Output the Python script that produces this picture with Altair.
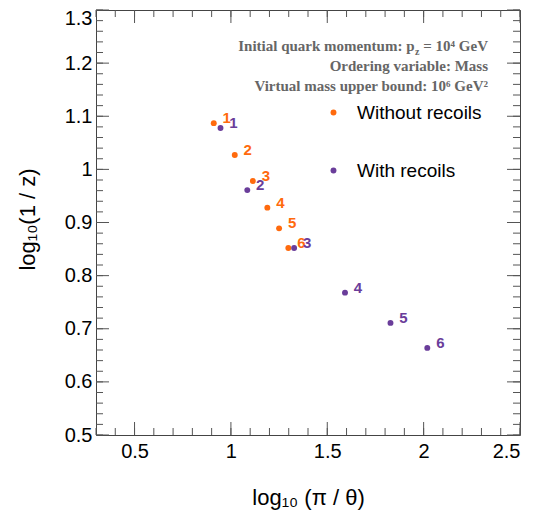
import altair as alt
import pandas as pd

# ---- data ----
series_names = ["Without recoils", "With recoils"]
series_colors = ["#FF6A0D", "#6A3D9A"]
labels = ["1", "2", "3", "4", "5", "6"]
without_x = [0.911, 1.020, 1.114, 1.189, 1.250, 1.298]
without_y = [1.087, 1.027, 0.978, 0.928, 0.889, 0.852]
with_x = [0.946, 1.085, 1.328, 1.592, 1.828, 2.019]
with_y = [1.078, 0.961, 0.852, 0.768, 0.711, 0.664]

x_ticks = [0.5, 1.0, 1.5, 2.0, 2.5]
y_ticks = [0.5, 0.6, 0.7, 0.8, 0.9, 1.0, 1.1, 1.2, 1.3]
x_minor = [round(0.3 + 0.1 * i, 2) for i in range(23)]
y_minor = [round(0.5 + 0.02 * i, 2) for i in range(41)]

notes_right = ["Initial quark momentum: p", "z", "= 10\u2074 GeV",
               "Ordering variable: Mass", "Virtual mass upper bound: 10\u2076 GeV\u00b2"]

W, H = 424, 425

rows = []
for s, xs, ys in [(series_names[0], without_x, without_y), (series_names[1], with_x, with_y)]:
    for lab, xv, yv in zip(labels, xs, ys):
        rows.append({"x": xv, "y": yv, "series": s, "label": lab})
df = pd.DataFrame(rows)

xscale = alt.Scale(domain=[0.3, 2.5], nice=False, zero=False)
yscale = alt.Scale(domain=[0.5, 1.3], nice=False, zero=False)
color = alt.Color("series:N", scale=alt.Scale(domain=series_names, range=series_colors),
                  legend=alt.Legend(orient="none", legendX=228, legendY=93, title=None,
                                    labelFontSize=19, labelFont="Liberation Sans",
                                    labelColor="black", symbolSize=35, symbolType="circle",
                                    rowPadding=38, labelOffset=14, padding=0,
                                    symbolStrokeWidth=0))

base = alt.Chart(df)
points = base.mark_point(filled=True, size=35, opacity=1).encode(
    x=alt.X("x:Q", scale=xscale,
            axis=alt.Axis(values=x_ticks, format="~g", ticks=False, domain=False, grid=False,
                          labelFontSize=20, labelFont="Liberation Sans", labelColor="black",
                          labelPadding=6, title="log\u2081\u2080 (\u03c0 / \u03b8)",
                          titleFontSize=22, titleFont="Liberation Sans",
                          titleFontWeight="normal", titleColor="black",
                          titleY=69, titleBaseline="alphabetic")),
    y=alt.Y("y:Q", scale=yscale,
            axis=alt.Axis(values=y_ticks, format="~g", ticks=False, domain=False, grid=False,
                          labelFontSize=20, labelFont="Liberation Sans", labelColor="black",
                          labelPadding=4,
                          labelOffset={"condition": {"test": "datum.value >= 1.29", "value": 8},
                                       "value": 0},
                          title="log\u2081\u2080(1 / z)",
                          titleFontSize=22, titleFont="Liberation Sans",
                          titleFontWeight="normal", titleColor="black",
                          titleX=-57, titleY=209, titleBaseline="bottom")),
    color=color,
)
texts = base.mark_text(dx=13, dy=-5, fontSize=15, fontWeight="bold",
                       font="Liberation Sans", align="center", baseline="middle").encode(
    x=alt.X("x:Q", scale=xscale), y=alt.Y("y:Q", scale=yscale), text="label:N",
    color=alt.Color("series:N", scale=alt.Scale(domain=series_names, range=series_colors),
                    legend=None),
)

tick_color = "#555555"


def tick_layer(vals, axis, side, length):
    d = pd.DataFrame({"v": vals})
    c = alt.Chart(d).mark_rule(color=tick_color, strokeWidth=1)
    if axis == "y":
        if side == "left":
            return c.encode(y=alt.Y("v:Q", scale=yscale), x=alt.value(0), x2=alt.value(length))
        return c.encode(y=alt.Y("v:Q", scale=yscale), x=alt.value(W - length), x2=alt.value(W))
    if side == "bottom":
        return c.encode(x=alt.X("v:Q", scale=xscale), y=alt.value(H - length), y2=alt.value(H))
    return c.encode(x=alt.X("v:Q", scale=xscale), y=alt.value(0), y2=alt.value(length))


ticks = []
for side in ["left", "right"]:
    ticks.append(tick_layer(y_ticks, "y", side, 13))
    ticks.append(tick_layer(y_minor, "y", side, 7))
for side in ["bottom", "top"]:
    ticks.append(tick_layer(x_ticks, "x", side, 13))
    ticks.append(tick_layer(x_minor, "x", side, 7))

note_style = dict(font="Liberation Serif", fontWeight="bold", color="#666666",
                  align="right", baseline="alphabetic")
notes = pd.DataFrame({"t": notes_right})


def note(i, px, py, size):
    return alt.Chart(notes.iloc[[i]]).mark_text(fontSize=size, **note_style).encode(
        text="t:N", x=alt.value(px), y=alt.value(py))


ann = [
    note(0, 318.5, 40.5, 15),
    note(1, 323.5, 44.5, 10),
    note(2, 392, 40.5, 15),
    note(3, 392, 60.5, 15),
    note(4, 392, 80.5, 15),
]

chart = alt.layer(*ticks, points, texts, *ann).properties(
    width=W, height=H,
    autosize=alt.AutoSizeParams(type="none"),
    padding={"left": 88, "top": 2, "right": 12, "bottom": 75},
).configure_view(stroke="#444444", strokeWidth=1)

chart.save("out.html", embed_options={"renderer": "svg", "actions": False})
